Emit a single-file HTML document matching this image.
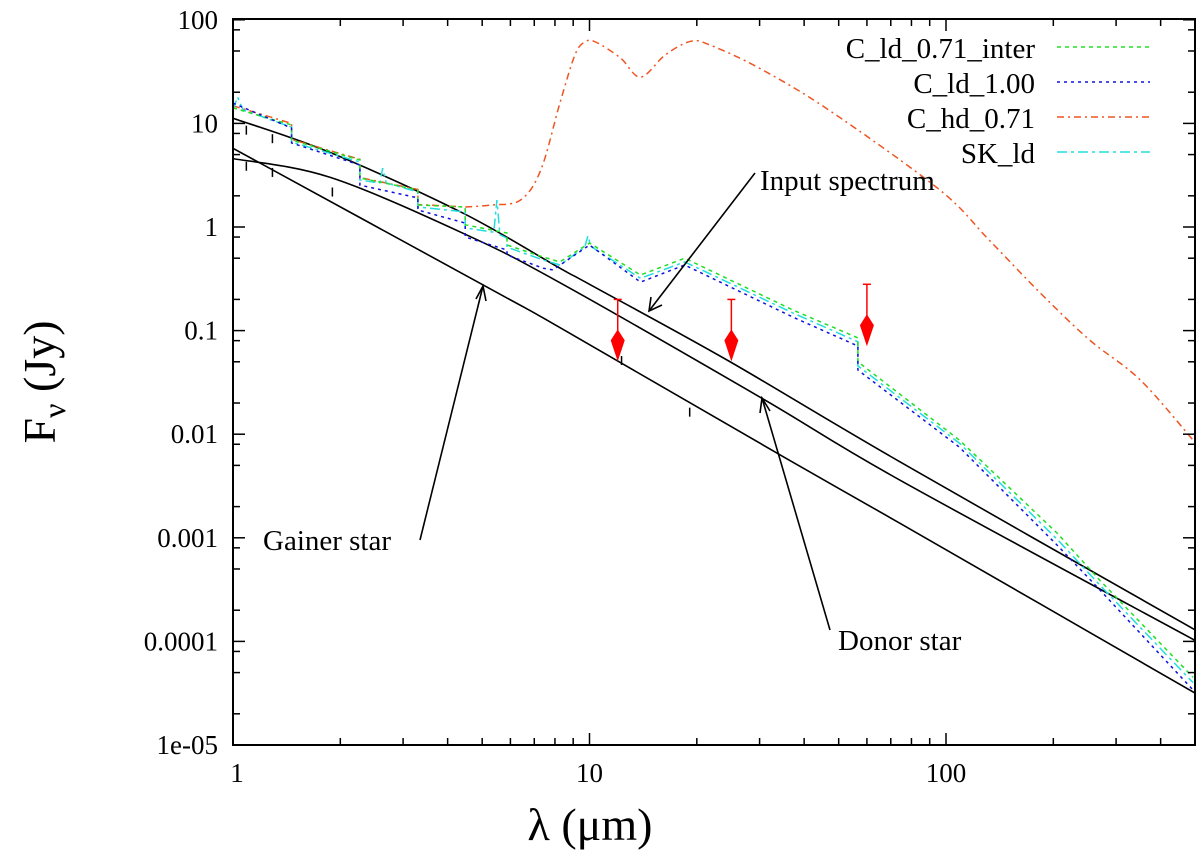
<!DOCTYPE html>
<html><head><meta charset="utf-8"><style>
body{margin:0;background:#fff}
svg{display:block}
text{font-family:"Liberation Serif",serif;fill:#000}
</style></head><body>
<svg id="chart" width="1200" height="864" viewBox="0 0 1200 864" xmlns="http://www.w3.org/2000/svg">
<g id="marks"></g>
<g id="axes"></g>
<text x="590" y="840" font-size="46" text-anchor="middle">λ (μm)</text>
<text transform="translate(55,382) rotate(-90)" font-size="46" text-anchor="middle">F<tspan font-size="32" dy="10">ν</tspan><tspan dy="-10"> (Jy)</tspan></text>
<g font-size="29">
<text x="1035" y="58" text-anchor="end">C_ld_0.71_inter</text>
<text x="1035" y="93" text-anchor="end">C_ld_1.00</text>
<text x="1035" y="128" text-anchor="end">C_hd_0.71</text>
<text x="1035" y="163" text-anchor="end">SK_ld</text>
<line x1="1057" y1="47" x2="1150" y2="47" stroke="#22dd22" stroke-width="1.5" stroke-dasharray="4,4"/>
<line x1="1057" y1="82" x2="1150" y2="82" stroke="#1010dd" stroke-width="1.5" stroke-dasharray="3,4"/>
<line x1="1057" y1="117" x2="1150" y2="117" stroke="#ee5522" stroke-width="1.5" stroke-dasharray="7,4,2,4"/>
<line x1="1057" y1="152" x2="1150" y2="152" stroke="#22dddd" stroke-width="1.5" stroke-dasharray="10,4,3,4"/>
</g>
<g font-size="29" stroke-width="1.6">
<text x="760" y="190">Input spectrum</text>
<text x="263" y="550">Gainer star</text>
<text x="838" y="650">Donor star</text>
<line x1="755" y1="173" x2="649" y2="311" stroke="#000"/>
<polyline points="651,297 649,311 662,305" fill="none" stroke="#000"/>
<line x1="420" y1="540" x2="483" y2="286" stroke="#000"/>
<polyline points="476,299 483,286 486,301" fill="none" stroke="#000"/>
<line x1="830" y1="630" x2="762" y2="398" stroke="#000"/>
<polyline points="760,413 762,398 770,411" fill="none" stroke="#000"/>
</g>
</svg>
<script>
// ---- data ----
const greenL=[1,1.46,1.46,2.27,2.27,3.30,3.30,4.48,4.48,5.87,5.87,7.41,8.26,10,13.9,18.5,37.2,56.6,56.6,109,205,270,493];
const greenF=[14.1,9.66,6.9,4.43,2.97,2.28,1.63,1.56,1.05,0.875,0.67,0.513,0.46,0.70,0.344,0.50,0.158,0.085,0.050,0.0088,0.00111,0.00039,0.000045];
const blueL=[1,1.46,1.46,2.27,2.27,3.30,3.30,4.48,4.48,5.87,5.87,7.41,7.9,10,13.9,18.5,37.2,56.6,56.6,109,205,270,493];
const blueF=[15.7,9.0,6.47,3.97,2.54,1.91,1.46,1.09,0.80,0.60,0.537,0.40,0.385,0.67,0.294,0.43,0.135,0.071,0.0417,0.0075,0.00085,0.000315,0.000034];
const cyanL=[1,1.03,1.067,1.46,1.46,2.27,2.27,2.58,2.63,2.69,3.30,3.30,4.48,4.48,5.39,5.5,5.61,5.87,5.87,7.41,8.26,9.7,9.9,10.1,13.9,18.5,37.2,56.6,56.6,109,205,270,493];
const cyanF=[13.5,18,13.5,9.2,6.6,4.24,2.84,2.66,3.7,2.66,2.18,1.56,1.40,0.98,0.89,1.82,0.84,0.78,0.64,0.48,0.43,0.64,0.82,0.65,0.32,0.46,0.148,0.078,0.0456,0.0082,0.00097,0.00035,0.00004];
const orangeStepL=[1,1.46,1.46,2.27,2.27,3.30,3.30,4.48];
const orangeStepF=[14.8,10.0,7.0,4.5,3.0,2.3,1.65,1.56];
const orangeL=[4.48,5.3,6.4,7.3,8.26,9.1,9.7,10.4,12.2,13.9,16.3,19.2,21.8,30,47,96,132,184,253,351,493];
const orangeF=[1.56,1.63,1.82,3.55,15.7,45.7,61,61,43,28,45.7,62,57,34,13.4,2.28,0.75,0.23,0.081,0.0333,0.0088];
const inputL=[1,1.87,4.42,8.26,10,24.3,73,500];
const inputF=[11.2,5.25,1.36,0.40,0.28,0.052,0.0056,0.000129];
const donorL=[1,1.87,4.42,8.26,30,74.3,500];
const donorF=[4.57,3.02,0.87,0.29,0.0229,0.0036,0.000102];
const gainerL=[1,5.36,8.26,36.4,74.3,500];
const gainerF=[5.75,0.245,0.107,0.0056,0.00138,0.0000316];
const limitL=[12,25,60];
const limitF=[0.2,0.2,0.28];
const photL=[1.09,1.29,1.29,1.09,1.9,12.3,19.1];
const photF=[8.7,7.2,3.4,3.9,2.2,0.052,0.0165];
const xMajor=[1,10,100];
const xMajorLabels=["1","10","100"];
const yMajor=[100,10,1,0.1,0.01,0.001,0.0001,0.00001];
const yMajorLabels=["100","10","1","0.1","0.01","0.001","0.0001","1e-05"];
// ---- axes ----
const L=233,R=1195,T=19,B=745;
const X=l=>L+356.5*Math.log10(l);
const Y=f=>227-103.6*Math.log10(f);
const NS="http://www.w3.org/2000/svg";
const marks=document.getElementById('marks'),axes=document.getElementById('axes');
function mk(tag,parent,attrs){const e=document.createElementNS(NS,tag);for(const k in attrs)e.setAttribute(k,attrs[k]);parent.appendChild(e);return e;}
const clip=mk('clipPath',marks,{id:'pc'});mk('rect',clip,{x:L,y:T,width:R-L,height:B-T});
function pathD(Ls,Fs,smooth){
  const P=Ls.map((l,i)=>[X(l),Y(Fs[i])]);
  if(!smooth) return P.map((p,i)=>(i?'L':'M')+p[0].toFixed(1)+','+p[1].toFixed(1)).join('');
  let d='M'+P[0][0].toFixed(1)+','+P[0][1].toFixed(1);
  for(let i=0;i<P.length-1;i++){
    const p0=P[Math.max(0,i-1)],p1=P[i],p2=P[i+1],p3=P[Math.min(P.length-1,i+2)];
    const c1=[p1[0]+(p2[0]-p0[0])/6,p1[1]+(p2[1]-p0[1])/6];
    const c2=[p2[0]-(p3[0]-p1[0])/6,p2[1]-(p3[1]-p1[1])/6];
    d+='C'+c1.map(v=>v.toFixed(1))+' '+c2.map(v=>v.toFixed(1))+' '+p2.map(v=>v.toFixed(1));
  }
  return d;
}
function series(Ls,Fs,color,dash,name,w,smooth){
  const p=mk('path',marks,{d:pathD(Ls,Fs,smooth),fill:'none',stroke:color,'stroke-width':w||1.5,'clip-path':'url(#pc)'});
  if(dash)p.setAttribute('stroke-dasharray',dash);
  
  
}
series(inputL,inputF,'#000',null,'input-spectrum-line',1.6,true);
series(donorL,donorF,'#000',null,'donor-star-line',1.6,true);
series(gainerL,gainerF,'#000',null,'gainer-star-line',1.6,true);
series(orangeStepL,orangeStepF,'#ee5522','7,4,2,4','c-hd-071-line-nir');
series(orangeL,orangeF,'#ee5522','7,4,2,4','c-hd-071-line',1.5,true);
series(cyanL,cyanF,'#22dddd','10,4,3,4','sk-ld-line');
series(greenL,greenF,'#22dd22','4,4','c-ld-071-inter-line');
series(blueL,blueF,'#1010dd','3,4','c-ld-100-line');
photL.forEach((l,i)=>{
  const e=mk('line',marks,{x1:X(l),x2:X(l),y1:Y(photF[i])-4,y2:Y(photF[i])+5,stroke:'#000','stroke-width':1.5});
  
  
});
limitL.forEach((l,i)=>{
  const x=X(l),y=Y(limitF[i]);
  const g=mk('g',marks,{});
  
  
  mk('line',g,{x1:x,x2:x,y1:y,y2:y+34,stroke:'#ff0000','stroke-width':1.5});
  mk('line',g,{x1:x-4,x2:x+4,y1:y,y2:y,stroke:'#ff0000','stroke-width':1.5});
  mk('polygon',g,{points:`${x},${y+30} ${x+7},${y+41} ${x},${y+62} ${x-7},${y+41}`,fill:'#ff0000'});
});
const fr=mk('rect',axes,{x:L,y:T,width:R-L,height:B-T,fill:'none',stroke:'#000','stroke-width':2});


for(let dec=1;dec<=100;dec*=10){for(let m=1;m<=9;m++){const v=dec*m;if(v>500)break;const x=X(v);const len=m===1?12:7;
  mk('line',axes,{x1:x,x2:x,y1:B,y2:B-len,stroke:'#000','stroke-width':1.5});
  mk('line',axes,{x1:x,x2:x,y1:T,y2:T+len,stroke:'#000','stroke-width':1.5});}}
xMajor.forEach((v,i)=>{const t=mk('text',axes,{x:X(v)+(i===0?4:0),y:782,'font-size':27,'text-anchor':'middle'});t.textContent=xMajorLabels[i];
  
  });
yMajor.forEach((v,i)=>{const y=Y(v);
  mk('line',axes,{x1:L,x2:L+12,y1:y,y2:y,stroke:'#000','stroke-width':1.5});
  mk('line',axes,{x1:R,x2:R-12,y1:y,y2:y,stroke:'#000','stroke-width':1.5});
  [2,5,8].forEach(m=>{const yy=Y(v*m);if(yy<T)return;
    mk('line',axes,{x1:L,x2:L+7,y1:yy,y2:yy,stroke:'#000','stroke-width':1.5});
    mk('line',axes,{x1:R,x2:R-7,y1:yy,y2:yy,stroke:'#000','stroke-width':1.5});});
  const t=mk('text',axes,{x:218,y:y+9,'font-size':27,'text-anchor':'end'});t.textContent=yMajorLabels[i];
  
  
});
</script>
</body></html>
